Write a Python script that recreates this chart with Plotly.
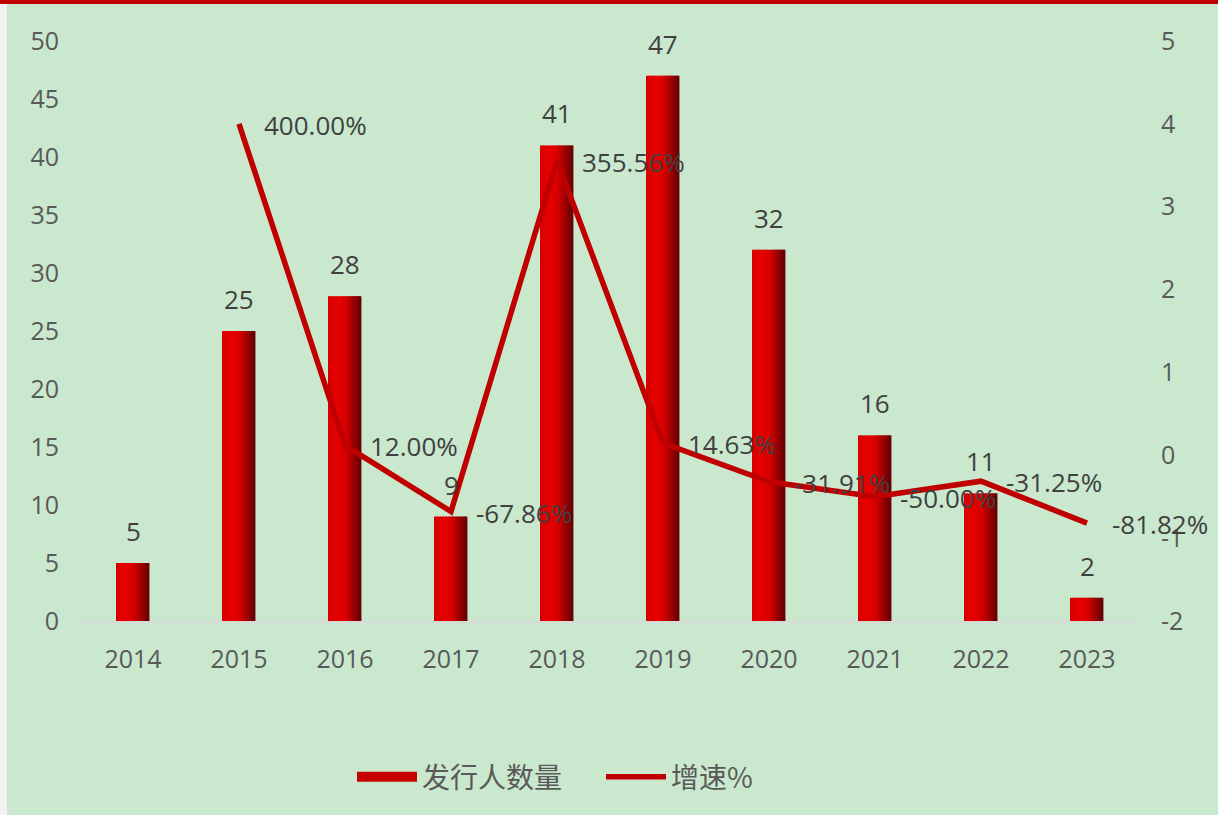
import plotly.graph_objects as go

# 发行人数量（家）与增速
years = [2014, 2015, 2016, 2017, 2018, 2019, 2020, 2021, 2022, 2023]
issuers = [5, 25, 28, 9, 41, 47, 32, 16, 11, 2]
growth_years = [2015, 2016, 2017, 2018, 2019, 2020, 2021, 2022, 2023]
growth = [4.0, 0.12, -0.6786, 3.5556, 0.1463, -0.3191, -0.5, -0.3125, -0.8182]
year_labels = [str(y) for y in years]
left_ticks = [0, 5, 10, 15, 20, 25, 30, 35, 40, 45, 50]
right_ticks = [-2, -1, 0, 1, 2, 3, 4, 5]

BG = "#c9e8cd"
RED = "#c00000"
TICK = "#595959"
LABEL = "#404040"
FONT = "Open Sans, Noto Sans CJK SC, sans-serif"
CJK = "Noto Sans CJK SC, Open Sans, sans-serif"

BAR_W = 0.31
N_SLICES = 22


def shade(t):
    # horizontal gradient across a bar: bright red on the left, dark maroon on the right
    stops = [(0.0, (214, 0, 0)), (0.3, (232, 0, 0)), (0.55, (212, 0, 0)), (1.0, (98, 0, 4))]
    for (t0, c0), (t1, c1) in zip(stops, stops[1:]):
        if t <= t1:
            f = (t - t0) / (t1 - t0)
            return "rgb(%d,%d,%d)" % tuple(round(a + (b - a) * f) for a, b in zip(c0, c1))
    return "rgb(%d,%d,%d)" % stops[-1][1]


fig = go.Figure()

step = BAR_W / N_SLICES
for i in range(N_SLICES):
    fig.add_trace(go.Bar(
        x=years, y=issuers,
        width=step * 1.25 if i < N_SLICES - 1 else step,
        offset=-BAR_W / 2 + i * step,
        marker=dict(color=shade((i + 0.5) / N_SLICES), line=dict(width=0)),
        name="发行人数量",
        legendgroup="bars",
        showlegend=False,
        hoverinfo="skip",
    ))

# legend swatch for the bar series: a wide block in the bar colour
fig.add_trace(go.Scatter(
    x=[None], y=[None], mode="lines",
    line=dict(color="#c80000", width=21),
    name="发行人数量", legendgroup="bars", showlegend=True,
))

fig.add_trace(go.Scatter(
    x=growth_years, y=growth, yaxis="y2",
    mode="lines",
    line=dict(color=RED, width=5.5),
    name="增速%",
))

annotations = []
for yr, v in zip(years, issuers):
    annotations.append(dict(
        x=yr, y=v, xref="x", yref="y", text=str(v), showarrow=False,
        yanchor="bottom", yshift=12, font=dict(size=26, color=LABEL, family=FONT),
    ))
for yr, g in zip(growth_years, growth):
    annotations.append(dict(
        x=yr, y=g, xref="x", yref="y2", text="%.2f%%" % (g * 100), showarrow=False,
        xanchor="left", xshift=23, yshift=-1,
        font=dict(size=26, color=LABEL, family=FONT),
    ))

W, H = 1218, 815
ML, MR, MT, MB = 80, 78, 41, 194
pw, ph = W - ML - MR, H - MT - MB

shapes = [
    # red rule across the top edge
    dict(type="rect", xref="paper", yref="paper",
         x0=-ML / pw, x1=(W - ML) / pw, y0=(ph + MT - 4) / ph, y1=(ph + MT) / ph,
         fillcolor=RED, line=dict(width=0), layer="above"),
    # pale strip at the left edge
    dict(type="rect", xref="paper", yref="paper",
         x0=-ML / pw, x1=(-ML + 7) / pw, y0=-MB / ph, y1=(ph + MT - 4) / ph,
         fillcolor="#f2f2f2", line=dict(width=0), layer="above"),
    dict(type="line", xref="paper", yref="paper",
         x0=(-ML + 7.5) / pw, x1=(-ML + 7.5) / pw, y0=-MB / ph, y1=(ph + MT - 4) / ph,
         line=dict(color="#d9d9d9", width=1), layer="above"),
]

fig.update_layout(
    width=W, height=H,
    margin=dict(l=ML, r=MR, t=MT, b=MB),
    paper_bgcolor=BG, plot_bgcolor=BG,
    barmode="overlay",
    font=dict(family=FONT, color=TICK, size=25),
    xaxis=dict(
        type="linear", range=[years[0] - 0.5, years[-1] + 0.5],
        tickvals=years, ticktext=year_labels,
        showgrid=False, zeroline=False,
        showline=True, linecolor="#d9d9d9", linewidth=2,
        ticks="", ticklabelstandoff=15,
        tickfont=dict(size=25, color=TICK),
    ),
    yaxis=dict(
        range=[0, 50], tickvals=left_ticks, ticktext=[str(t) for t in left_ticks],
        showgrid=False, zeroline=False, showline=False,
        ticks="", ticklabelstandoff=20, tickfont=dict(size=25, color=TICK),
    ),
    yaxis2=dict(
        range=[-2, 5], tickvals=right_ticks, ticktext=[str(t) for t in right_ticks],
        overlaying="y", side="right",
        showgrid=False, zeroline=False, showline=False,
        ticks="", ticklabelstandoff=20, tickfont=dict(size=25, color=TICK),
    ),
    legend=dict(
        orientation="h", x=(352 - ML) / pw, xanchor="left", y=-0.269, yanchor="middle",
        font=dict(size=28, color=TICK, family=CJK),
        bgcolor="rgba(0,0,0,0)", itemwidth=60, tracegroupgap=0,
        entrywidth=174,
    ),
    annotations=annotations,
    shapes=shapes,
    showlegend=True,
)

fig.write_html("out.html")
